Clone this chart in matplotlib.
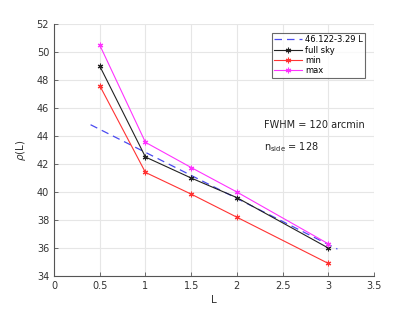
import numpy as np
import matplotlib
matplotlib.use("Agg")
import matplotlib.pyplot as plt

# values
L = [0.5, 1.0, 1.5, 2.0, 3.0]
full_sky = [49.0, 42.5, 41.0, 39.6, 36.0]
rho_min = [47.6, 41.4, 39.85, 38.2, 34.9]
rho_max = [50.5, 43.55, 41.75, 40.0, 36.3]

fit_a, fit_b = 46.122, -3.29
fit_range = [0.4, 3.1]

fig = plt.figure(figsize=(4.15, 3.12), dpi=100)
ax = fig.add_axes([54 / 415, 36 / 312, 320 / 415, 252 / 312])

xf = np.array(fit_range)
ax.plot(xf, fit_a + fit_b * xf, "--", color="#4a4af0", lw=0.9, dashes=(6, 4),
        label="46.122-3.29 L")
ast = (6, 2, 0)
ax.plot(L, full_sky, "-", color="#222222", lw=0.8, marker=ast, ms=4, mew=0.8,
        label="full sky")
ax.plot(L, rho_min, "-", color="#ff3333", lw=0.8, marker=ast, ms=4, mew=0.8,
        label="min")
ax.plot(L, rho_max, "-", color="#ff33ff", lw=0.8, marker=ast, ms=4, mew=0.8,
        label="max")

ax.set_xlim(0, 3.5)
ax.set_ylim(34, 52)
ax.set_xticks(np.arange(0, 3.51, 0.5))
ax.set_xticklabels(["0", "0.5", "1", "1.5", "2", "2.5", "3", "3.5"])
ax.set_yticks(np.arange(34, 52.1, 2))
ax.grid(True, color="#e6e6e6", lw=0.8)
ax.set_axisbelow(True)
for s in ["top", "right"]:
    ax.spines[s].set_visible(False)
for s in ["left", "bottom"]:
    ax.spines[s].set_color("#555555")
    ax.spines[s].set_linewidth(0.8)
ax.tick_params(direction="in", length=3, width=0.6, colors="#555555",
               labelsize=7, labelcolor="#333333")
ax.set_xlabel("L", fontsize=7.5, color="#333333", labelpad=3)
ax.set_ylabel(r"$\rho$(L)", fontsize=7.5, color="#333333", labelpad=6)

ax.text(2.3, 44.8, "FWHM = 120 arcmin", fontsize=7, color="#222222", va="center")
ax.text(2.3, 43.2, r"n$_{\mathregular{side}}$ = 128", fontsize=7, color="#222222",
        va="center")

leg = ax.legend(loc="upper right", bbox_to_anchor=(0.98, 0.975), fontsize=6,
                frameon=True, fancybox=False, handlelength=3.4,
                borderpad=0.3, labelspacing=0.15, handletextpad=0.3,
                borderaxespad=0.3)
leg.get_frame().set_edgecolor("#444444")
leg.get_frame().set_linewidth(0.8)

fig.savefig("out.png", dpi=100)
